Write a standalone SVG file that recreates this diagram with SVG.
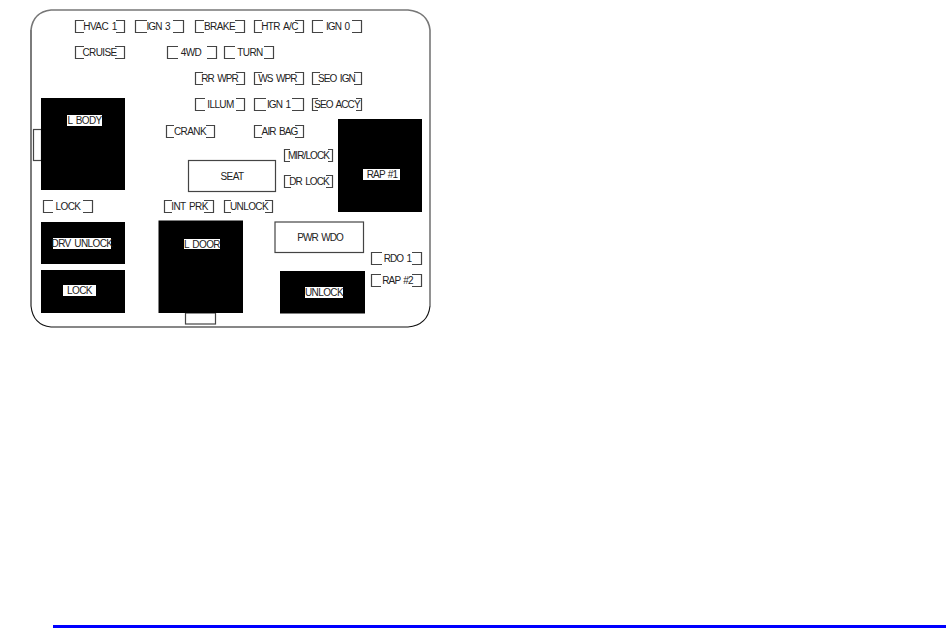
<svg xmlns="http://www.w3.org/2000/svg" width="946" height="628" viewBox="0 0 946 628">
<style>
.o{fill:none;stroke:#111;stroke-width:1.1}
.g{fill:none;stroke:#777;stroke-width:1.6}
.f{fill:none;stroke:#444;stroke-width:1.2}
.b{fill:#000}
.w{fill:#fff;stroke:#444;stroke-width:1.2}
.l{fill:#fff}
text{font-family:"Liberation Sans",Arial,sans-serif;font-size:10px;letter-spacing:-.6px;word-spacing:1.5px;fill:#222;text-anchor:middle}
text.n{letter-spacing:-.9px}
</style>
<rect width="946" height="628" fill="#fff"/>
<g id="panel">
<path class="g" d="M31 30Q33 12 51 10H408Q428 12 430 30V306"/>
<path class="o" d="M31 30V306Q33 325 51 327H408Q428 325 430 306"/>
</g>
<g id="connectors"></g>
<g id="tabs">
<rect class="w" x="33.500" y="129.500" width="8" height="31"/>
<rect class="w" x="185.500" y="313" width="30" height="11"/>
</g>
<g id="f-hvac1"><path class="f" d="M84 20.500H75.500V32.500H84M116 20.500H124.500V32.500H116"/><text x="100" y="30">HVAC 1</text></g>
<g id="f-ign3"><path class="f" d="M147 20.500H135.500V32.500H147M173 20.500H183.500V32.500H173"/><text class="n" x="158" y="30">IGN 3</text></g>
<g id="f-brake"><path class="f" d="M204 20.500H195.500V32.500H204M235 20.500H244.500V32.500H235"/><text x="219.500" y="30">BRAKE</text></g>
<g id="f-htrac"><path class="f" d="M262 20.500H254.500V32.500H262M295 20.500H303.500V32.500H295"/><text x="279.500" y="30">HTR A/C</text></g>
<g id="f-ign0"><path class="f" d="M323 20.500H312.500V32.500H323M352 20.500H361.500V32.500H352"/><text class="n" x="337.500" y="30">IGN 0</text></g>
<g id="f-cruise"><path class="f" d="M84 46.500H75.500V58.500H84M115 46.500H124.500V58.500H115"/><text x="99.500" y="56">CRUISE</text></g>
<g id="f-4wd"><path class="f" d="M178 46.500H167.500V58.500H178M207 46.500H216.500V58.500H207"/><text x="191" y="56">4WD</text></g>
<g id="f-turn"><path class="f" d="M235 46.500H224.500V58.500H235M264 46.500H273.500V58.500H264"/><text x="250" y="56">TURN</text></g>
<g id="f-rrwpr"><path class="f" d="M203 72.500H195.500V84.500H203M236 72.500H244.500V84.500H236"/><text class="n" x="219.500" y="82">RR WPR</text></g>
<g id="f-wswpr"><path class="f" d="M262 72.500H254.500V84.500H262M295 72.500H303.500V84.500H295"/><text class="n" x="277.500" y="82">WS WPR</text></g>
<g id="f-seoign"><path class="f" d="M320 72.500H312.500V84.500H320M354 72.500H361.500V84.500H354"/><text class="n" x="336.500" y="82">SEO IGN</text></g>
<g id="f-illum"><path class="f" d="M205 98.500H195.500V110.500H205M236 98.500H244.500V110.500H236"/><text x="220.500" y="108">ILLUM</text></g>
<g id="f-ign1"><path class="f" d="M266 98.500H254.500V110.500H266M292 98.500H303.500V110.500H292"/><text class="n" x="278.500" y="108">IGN 1</text></g>
<g id="f-seoaccy"><path class="f" d="M318 98.500H312.500V110.500H318M356 98.500H361.500V110.500H356"/><text class="n" x="337" y="108">SEO ACCY</text></g>
<g id="f-crank"><path class="f" d="M174 125.500H166.500V137.500H174M206 125.500H214.500V137.500H206"/><text x="190" y="135">CRANK</text></g>
<g id="f-airbag"><path class="f" d="M262 125.500H254.500V137.500H262M295 125.500H303.500V137.500H295"/><text class="n" x="279.500" y="135">AIR BAG</text></g>
<g id="f-mirlock"><path class="f" d="M290 149.500H284.500V161.500H290M328 149.500H332.500V161.500H328"/><text class="n" x="308.500" y="159">MIR/LOCK</text></g>
<g id="f-drlock"><path class="f" d="M291 175.500H284.500V187.500H291M326 175.500H332.500V187.500H326"/><text class="n" x="309" y="185">DR LOCK</text></g>
<g id="f-lock"><path class="f" d="M53 200.500H43.500V212.500H53M83 200.500H92.500V212.500H83"/><text x="68" y="210">LOCK</text></g>
<g id="f-intprk"><path class="f" d="M172 200.500H164.500V212.500H172M204 200.500H213.500V212.500H204"/><text x="189.500" y="210">INT PRK</text></g>
<g id="f-unlock"><path class="f" d="M231 200.500H224.500V212.500H231M265 200.500H272.500V212.500H265"/><text x="249" y="210">UNLOCK</text></g>
<g id="f-rdo1"><path class="f" d="M382 252.500H371.500V264.500H382M412 252.500H421.500V264.500H412"/><text class="n" x="397.500" y="262">RDO 1</text></g>
<g id="f-rap2"><path class="f" d="M381 274.500H371.500V286.500H381M412 274.500H421.500V286.500H412"/><text class="n" x="397.500" y="284">RAP #2</text></g>
<g id="n-lbody"><rect class="b" x="41" y="98" width="84" height="92"/><rect class="l" x="67" y="115" width="35" height="11"/><text x="84.500" y="124">L BODY</text></g>
<g id="n-drvunlock"><rect class="b" x="41" y="222" width="84" height="42"/><rect class="l" x="53" y="238" width="58" height="11"/><text x="82" y="247">DRV UNLOCK</text></g>
<g id="n-lock"><rect class="b" x="41" y="270" width="84" height="43"/><rect class="l" x="63" y="285" width="33" height="11"/><text x="79.500" y="294">LOCK</text></g>
<g id="n-ldoor"><rect class="b" x="158.500" y="220.500" width="84.500" height="92.500"/><rect class="l" x="184" y="239" width="36" height="10"/><text x="202" y="248">L DOOR</text></g>
<g id="n-unlock"><rect class="b" x="280" y="271" width="85" height="42.500"/><rect class="l" x="305" y="287" width="38" height="11"/><text x="324" y="296">UNLOCK</text></g>
<g id="n-rap1"><rect class="b" x="338" y="119" width="84" height="93"/><rect class="l" x="363" y="169" width="37" height="11"/><text class="n" x="382" y="178">RAP #1</text></g>
<g id="n-seat"><rect class="w" x="188.500" y="160.500" width="87" height="31"/><text x="232" y="180">SEAT</text></g>
<g id="n-pwrwdo"><rect class="w" x="275" y="222" width="88.500" height="30.500"/><text class="n" x="320" y="241">PWR WDO</text></g>
<rect id="rule" x="53" y="625" width="893" height="3" fill="#0000ff"/>
</svg>
